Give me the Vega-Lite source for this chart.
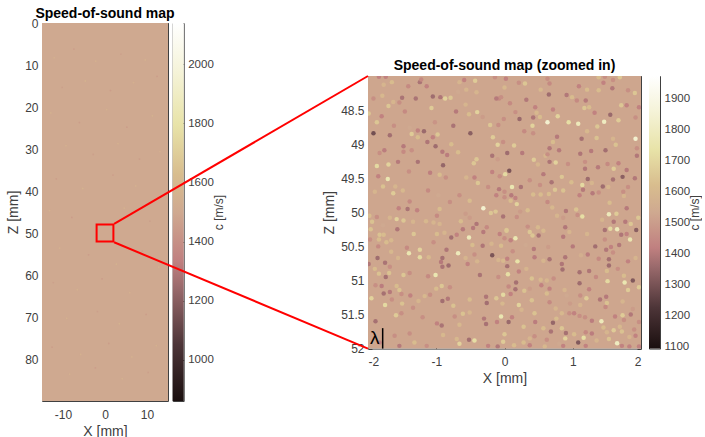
{"$schema":"https://vega.github.io/schema/vega-lite/v6.json","padding":{"left":6,"top":6,"right":0,"bottom":0},"background":"white","bounds":"flush","spacing":326,"config":{"view":{"stroke":"#404040","strokeWidth":1},"font":"Liberation Sans","axis":{"grid":false,"domain":false,"tickColor":"#404040","tickSize":-4,"tickWidth":1,"labelColor":"#404040","labelFontSize":12,"labelFont":"Liberation Sans","titleFont":"Liberation Sans","titleColor":"#404040","titleFontWeight":"normal","titleFontSize":14,"labelPadding":8,"labelExpr":"''+datum.value"},"title":{"font":"Liberation Sans","fontSize":14,"fontWeight":"bold","color":"#000000","offset":-4}},"hconcat":[{"spacing":4.7,"bounds":"flush","hconcat":[{"width":126,"height":378,"title":"Speed-of-sound map","resolve":{"axis":{"x":"independent","y":"independent"}},"layer":[{"data":{"values":[{"x":-15,"x2":15,"z":0,"z2":90,"c":1500}]},"mark":"rect","encoding":{"x":{"field":"x","type":"quantitative","scale":{"domain":[-15,15],"nice":false},"axis":{"values":[-10,0,10],"title":"X [mm]","orient":"bottom","labelPadding":12}},"x2":{"field":"x2"},"y":{"field":"z","type":"quantitative","scale":{"domain":[90,0],"nice":false},"axis":{"values":[0,10,20,30,40,50,60,70,80],"title":"Z [mm]","orient":"left"}},"y2":{"field":"z2"},"color":{"field":"c","type":"quantitative","legend":null,"scale":{"domain":[860,1052,1244,1334,1500,1628,1794,1974,2140],"range":["#1a0f0f","#4d3538","#9a6a6c","#c08080","#cfa990","#d8bd8e","#e8e3a8","#f5f3d8","#ffffff"]}}}},{"data":{"values":[{"x":-12.1,"z":8.3,"c":1580},{"x":-7.4,"z":6.2,"c":1440},{"x":-2.2,"z":9.1,"c":1590},{"x":3.8,"z":7.4,"c":1450},{"x":9.6,"z":8.8,"c":1600},{"x":12.4,"z":12.7,"c":1430},{"x":-10.2,"z":15.3,"c":1450},{"x":-4.7,"z":13.8,"c":1610},{"x":1.3,"z":16.1,"c":1440},{"x":6.8,"z":14.2,"c":1590},{"x":-12.9,"z":21.4,"c":1600},{"x":-6.1,"z":23.7,"c":1440},{"x":0.4,"z":20.6,"c":1600},{"x":5.2,"z":24.8,"c":1430},{"x":11.3,"z":22.1,"c":1610},{"x":-9.3,"z":29.2,"c":1590},{"x":-2.8,"z":31.3,"c":1450},{"x":3.1,"z":28.7,"c":1600},{"x":8.2,"z":32.4,"c":1440},{"x":13.1,"z":30.6,"c":1590},{"x":-11.6,"z":37.1,"c":1440},{"x":-5.3,"z":39.4,"c":1610},{"x":1.9,"z":36.2,"c":1440},{"x":7.3,"z":38.8,"c":1600},{"x":-13.2,"z":44.7,"c":1600},{"x":-7.9,"z":46.3,"c":1430},{"x":4.6,"z":44.1,"c":1590},{"x":10.7,"z":47.2,"c":1450},{"x":-10.8,"z":53.6,"c":1590},{"x":-3.9,"z":55.2,"c":1440},{"x":2.7,"z":57.4,"c":1610},{"x":8.9,"z":54.3,"c":1440},{"x":12.8,"z":58.1,"c":1600},{"x":-12.3,"z":61.8,"c":1450},{"x":-6.6,"z":63.5,"c":1600},{"x":-0.7,"z":60.9,"c":1430},{"x":5.9,"z":64.2,"c":1590},{"x":-9.1,"z":70.3,"c":1600},{"x":-1.8,"z":68.7,"c":1450},{"x":3.4,"z":71.6,"c":1610},{"x":9.8,"z":69.4,"c":1440},{"x":-12.6,"z":77.2,"c":1440},{"x":-5.8,"z":78.9,"c":1600},{"x":0.9,"z":76.3,"c":1440},{"x":6.4,"z":79.5,"c":1590},{"x":12.2,"z":76.8,"c":1600},{"x":-8.4,"z":83.6,"c":1590},{"x":-2.3,"z":82.1,"c":1430},{"x":4.1,"z":84.7,"c":1600},{"x":10.3,"z":83.2,"c":1450}]},"mark":{"type":"circle","size":3,"opacity":0.7},"encoding":{"x":{"field":"x","type":"quantitative","axis":{"values":[-10,0,10],"title":null,"labels":false,"orient":"top"}},"y":{"field":"z","type":"quantitative","axis":{"values":[0,10,20,30,40,50,60,70,80],"title":null,"labels":false,"orient":"right"}},"color":{"field":"c","type":"quantitative","legend":null}}},{"data":{"values":[{"x":-2,"x2":2,"z":48,"z2":52}]},"mark":{"type":"rect","fillOpacity":0,"stroke":"#ff0000","strokeWidth":2},"encoding":{"x":{"field":"x","type":"quantitative","axis":null},"x2":{"field":"x2"},"y":{"field":"z","type":"quantitative","axis":null},"y2":{"field":"z2"}}}]},{"width":11,"height":378,"data":{"values":[{"c":860,"c2":2140}]},"mark":{"type":"rect","color":{"gradient":"linear","x1":0,"y1":1,"x2":0,"y2":0,"stops":[{"offset":0,"color":"#1a0f0f"},{"offset":0.15,"color":"#4d3538"},{"offset":0.3,"color":"#9a6a6c"},{"offset":0.37,"color":"#c08080"},{"offset":0.5,"color":"#cfa990"},{"offset":0.6,"color":"#d8bd8e"},{"offset":0.73,"color":"#e8e3a8"},{"offset":0.87,"color":"#f5f3d8"},{"offset":1,"color":"#ffffff"}]}},"encoding":{"y":{"field":"c","type":"quantitative","scale":{"domain":[860,2140]},"axis":{"orient":"right","values":[1000,1200,1400,1600,1800,2000],"title":"c [m/s]","titleAngle":270,"titleFontSize":12,"labelFontSize":11.5,"tickSize":-3,"labelPadding":7,"titlePadding":12}},"y2":{"field":"c2"}}}]},{"spacing":0,"bounds":"flush","vconcat":[{"width":10,"height":52.7,"view":{"stroke":null},"data":{"values":[{"c":1}]},"mark":{"type":"point","opacity":0},"encoding":{}},{"hconcat":[{"width":273,"height":272.6,"title":{"text":"Speed-of-sound map (zoomed in)","offset":2},"resolve":{"axis":{"x":"independent","y":"independent"}},"layer":[{"data":{"values":[{"x":-2,"x2":2,"z":48,"z2":52,"c":1490}]},"mark":"rect","encoding":{"x":{"field":"x","type":"quantitative","scale":{"domain":[-2,2],"nice":false},"axis":{"values":[-2,-1,0,1,2],"title":"X [mm]","orient":"bottom","labelPadding":12}},"x2":{"field":"x2"},"y":{"field":"z","type":"quantitative","scale":{"domain":[52,48],"nice":false},"axis":{"values":[48.5,49,49.5,50,50.5,51,51.5,52],"title":"Z [mm]","orient":"left"}},"y2":{"field":"z2"},"color":{"field":"c","type":"quantitative","legend":null,"scale":{"domain":[1094,1226,1358,1420,1534,1622,1736,1860,1974],"range":["#1a0f0f","#4d3538","#9a6a6c","#c08080","#cfa990","#d8bd8e","#e8e3a8","#f5f3d8","#ffffff"]}}}},{"data":{"values":[{"x":-1.92,"z":48.84,"c":1100},{"x":-1.87,"z":48.68,"c":1700},{"x":-1.68,"z":48.87,"c":1220},{"x":-1.8,"z":48.59,"c":1350},{"x":-1.62,"z":48.73,"c":1400},{"x":-1.5,"z":48.32,"c":1250},{"x":-1.3,"z":48.33,"c":1250},{"x":-1.24,"z":48.09,"c":1250},{"x":-1.05,"z":48.3,"c":1200},{"x":-0.94,"z":48.31,"c":1270},{"x":-0.87,"z":48.33,"c":1750},{"x":-0.79,"z":48.32,"c":1700},{"x":-1.07,"z":48.47,"c":1720},{"x":-1.18,"z":48.81,"c":1180},{"x":-0.5,"z":48.84,"c":1150},{"x":-0.75,"z":48.73,"c":1250},{"x":-0.71,"z":48.52,"c":1300},{"x":-1.36,"z":48.85,"c":1720},{"x":-0.98,"z":48.86,"c":1700},{"x":-1.13,"z":48.97,"c":1270},{"x":-1.01,"z":49.03,"c":1200},{"x":-1.05,"z":48.9,"c":1350},{"x":-0.78,"z":49,"c":1650},{"x":-0.91,"z":49.11,"c":1300},{"x":-0.84,"z":49.16,"c":1320},{"x":-0.68,"z":49.12,"c":1650},{"x":-1.27,"z":49.26,"c":1250},{"x":-0.9,"z":49.31,"c":1170},{"x":-1.56,"z":49.26,"c":1300},{"x":-1.48,"z":49.03,"c":1300},{"x":-1.48,"z":49.11,"c":1380},{"x":-1.76,"z":49.09,"c":1320},{"x":-1.83,"z":49.13,"c":1400},{"x":-1.87,"z":49.32,"c":1780},{"x":-1.7,"z":49.3,"c":1750},{"x":-1.71,"z":49.51,"c":1850},{"x":-1.85,"z":49.47,"c":1350},{"x":-1.09,"z":49.42,"c":1330},{"x":-0.41,"z":49.22,"c":1700},{"x":-0.45,"z":49.28,"c":1700},{"x":-0.4,"z":48.53,"c":1750},{"x":-0.52,"z":48.56,"c":1650},{"x":-0.57,"z":48.42,"c":1600},{"x":-1.65,"z":48.09,"c":1650},{"x":-1.41,"z":48.15,"c":1380},{"x":-1.22,"z":48.05,"c":1380},{"x":-1.77,"z":48.13,"c":1600},{"x":-1.92,"z":48.33,"c":1400},{"x":-1.79,"z":48.29,"c":1620},{"x":-1.7,"z":48.44,"c":1700},{"x":-1.63,"z":48.38,"c":1600},{"x":-1.46,"z":48.52,"c":1380},{"x":-1.54,"z":48.39,"c":1400},{"x":-0.43,"z":48.07,"c":1720},{"x":-0.59,"z":48.06,"c":1350},{"x":-0.68,"z":48.23,"c":1500},{"x":-0.56,"z":48.2,"c":1600},{"x":-0.21,"z":48.72,"c":1700},{"x":-0.09,"z":48.72,"c":1400},{"x":-0.17,"z":48.9,"c":1720},{"x":-0.1,"z":49.01,"c":1750},{"x":0.04,"z":49.13,"c":1200},{"x":0.07,"z":49.39,"c":1120},{"x":0.01,"z":49.44,"c":1780},{"x":-0.18,"z":49.17,"c":1250},{"x":-0.1,"z":49.22,"c":1450},{"x":-0.08,"z":48.33,"c":1380},{"x":-0.12,"z":48.33,"c":1300},{"x":-0.41,"z":48.24,"c":1600},{"x":-0.14,"z":48.02,"c":1400},{"x":0.02,"z":48.04,"c":1350},{"x":-1.84,"z":48.01,"c":1350},{"x":-1.74,"z":48.01,"c":1350},{"x":-1.99,"z":48.55,"c":1700},{"x":-0.32,"z":48.6,"c":1450},{"x":-0.66,"z":48.09,"c":1600},{"x":-1.14,"z":48.15,"c":1350},{"x":-1.02,"z":48.68,"c":1420},{"x":-1.39,"z":48.76,"c":1500},{"x":-1.27,"z":48.8,"c":1350},{"x":-1.27,"z":48.9,"c":1650},{"x":-1.36,"z":49.09,"c":1400},{"x":-1.78,"z":49.62,"c":1680},{"x":-1.9,"z":49.7,"c":1600},{"x":-1.63,"z":49.72,"c":1720},{"x":-1.6,"z":49.62,"c":1600},{"x":-1.49,"z":49.68,"c":1620},{"x":-1.39,"z":49.84,"c":1380},{"x":-1.12,"z":49.68,"c":1380},{"x":-0.8,"z":49.85,"c":1400},{"x":-0.97,"z":49.75,"c":1500},{"x":-0.66,"z":49.75,"c":1400},{"x":-0.51,"z":49.83,"c":1650},{"x":-0.39,"z":49.57,"c":1700},{"x":-0.44,"z":49.49,"c":1350},{"x":-0.56,"z":49.49,"c":1600},{"x":-0.86,"z":49.49,"c":1400},{"x":-0.95,"z":49.45,"c":1650},{"x":-1.4,"z":49.4,"c":1400},{"x":-0.18,"z":49.41,"c":1350},{"x":-0.07,"z":49.47,"c":1400},{"x":-0.08,"z":49.66,"c":1300},{"x":-0.24,"z":49.63,"c":1400},{"x":0,"z":49.78,"c":1400},{"x":-0.12,"z":49.75,"c":1350},{"x":0.65,"z":48.27,"c":1200},{"x":0.32,"z":48.35,"c":1280},{"x":0.63,"z":48.68,"c":1950},{"x":0.78,"z":48.59,"c":1750},{"x":0.94,"z":48.68,"c":1800},{"x":1.08,"z":48.7,"c":1880},{"x":1.46,"z":48.67,"c":1900},{"x":1.92,"z":48.92,"c":1950},{"x":1.91,"z":48.25,"c":1700},{"x":1.67,"z":48.65,"c":1720},{"x":1.55,"z":48.57,"c":1180},{"x":1.58,"z":48.18,"c":1280},{"x":1.38,"z":48.21,"c":1650},{"x":1.21,"z":48.2,"c":1650},{"x":1.09,"z":48.15,"c":1350},{"x":0.99,"z":48.31,"c":1650},{"x":0.91,"z":48.28,"c":1280},{"x":1.06,"z":48.36,"c":1380},{"x":1.19,"z":48.36,"c":1300},{"x":1.24,"z":48.46,"c":1650},{"x":1.17,"z":48.47,"c":1700},{"x":1.32,"z":48.54,"c":1350},{"x":1.71,"z":48.43,"c":1700},{"x":1.79,"z":48.43,"c":1350},{"x":1.97,"z":48.46,"c":1350},{"x":1.92,"z":48.61,"c":1400},{"x":0.22,"z":48.63,"c":1180},{"x":0.42,"z":48.61,"c":1260},{"x":0.52,"z":48.6,"c":1650},{"x":0.47,"z":48.54,"c":1620},{"x":0.45,"z":48.46,"c":1350},{"x":0.16,"z":48.53,"c":1400},{"x":0.71,"z":48.49,"c":1350},{"x":-0.01,"z":48.63,"c":1400},{"x":0.08,"z":48.4,"c":1380},{"x":-0.05,"z":48.31,"c":1400},{"x":0,"z":48.17,"c":1620},{"x":0.3,"z":48.11,"c":1700},{"x":0.21,"z":48.1,"c":1400},{"x":0.66,"z":48.11,"c":1380},{"x":0.63,"z":48.04,"c":1400},{"x":0.53,"z":48.2,"c":1620},{"x":1.45,"z":48.1,"c":1350},{"x":1.59,"z":48.06,"c":1400},{"x":1.69,"z":48.02,"c":1700},{"x":1.38,"z":48.02,"c":1650},{"x":1.47,"z":48.01,"c":1400},{"x":1.81,"z":48.21,"c":1400},{"x":1.13,"z":48.92,"c":1230},{"x":0.77,"z":48.89,"c":1300},{"x":0.71,"z":48.97,"c":1650},{"x":0.66,"z":49.06,"c":1280},{"x":0.8,"z":49.09,"c":1300},{"x":0.6,"z":49.17,"c":1600},{"x":1.11,"z":49.14,"c":1270},{"x":1.27,"z":49.1,"c":1300},{"x":1.48,"z":49.09,"c":1220},{"x":1.35,"z":48.91,"c":1680},{"x":1.63,"z":49.01,"c":1680},{"x":1.59,"z":48.92,"c":1600},{"x":1.21,"z":48.81,"c":1620},{"x":1.36,"z":48.74,"c":1700},{"x":0.41,"z":48.73,"c":1750},{"x":0.29,"z":48.81,"c":1380},{"x":0.42,"z":48.84,"c":1400},{"x":0.14,"z":49.02,"c":1720},{"x":0.26,"z":49.13,"c":1300},{"x":0.43,"z":49.23,"c":1720},{"x":0.66,"z":49.26,"c":1260},{"x":0.75,"z":49.27,"c":1750},{"x":0.63,"z":49.15,"c":1400},{"x":0.49,"z":49.3,"c":1600},{"x":0.93,"z":49.29,"c":1400},{"x":1.18,"z":49.26,"c":1400},{"x":1.18,"z":49.36,"c":1280},{"x":1.51,"z":49.29,"c":1380},{"x":1.67,"z":49.28,"c":1350},{"x":1.37,"z":49.34,"c":1300},{"x":1.6,"z":49.36,"c":1720},{"x":1.79,"z":49.38,"c":1300},{"x":1.22,"z":49.51,"c":1190},{"x":1.59,"z":49.52,"c":1230},{"x":1.73,"z":49.48,"c":1150},{"x":1.91,"z":49.5,"c":1280},{"x":0.57,"z":49.44,"c":1300},{"x":0.84,"z":49.48,"c":1700},{"x":0.98,"z":49.56,"c":1650},{"x":0.69,"z":49.56,"c":1250},{"x":0.37,"z":49.53,"c":1400},{"x":1.14,"z":49.6,"c":1780},{"x":1.15,"z":49.67,"c":1300},{"x":1.28,"z":49.57,"c":1600},{"x":1.44,"z":49.62,"c":1200},{"x":1.52,"z":49.63,"c":1600},{"x":1.29,"z":49.72,"c":1300},{"x":1.38,"z":49.71,"c":1400},{"x":0.11,"z":49.63,"c":1850},{"x":0.24,"z":49.63,"c":1250},{"x":0.52,"z":49.6,"c":1400},{"x":0.42,"z":49.74,"c":1650},{"x":0,"z":49.7,"c":1400},{"x":0.1,"z":49.75,"c":1300},{"x":0.16,"z":49.79,"c":1350},{"x":0.09,"z":49.83,"c":1650},{"x":0.18,"z":49.88,"c":1750},{"x":0.74,"z":49.67,"c":1700},{"x":0.86,"z":49.68,"c":1680},{"x":1.1,"z":49.75,"c":1350},{"x":1.54,"z":49.86,"c":1650},{"x":1.74,"z":49.7,"c":1400},{"x":1.81,"z":49.63,"c":1400},{"x":1.75,"z":49.76,"c":1600},{"x":0.63,"z":49.85,"c":1380},{"x":0.53,"z":49.74,"c":1650},{"x":0.65,"z":49.73,"c":1650},{"x":1.94,"z":49.17,"c":1280},{"x":1.94,"z":49.06,"c":1400},{"x":-0.02,"z":48.97,"c":1400},{"x":-0.31,"z":49.94,"c":1950},{"x":-0.2,"z":50.01,"c":1700},{"x":-0.13,"z":49.99,"c":1700},{"x":-0.02,"z":50.06,"c":1250},{"x":-1.55,"z":49.94,"c":1350},{"x":-1.42,"z":49.95,"c":1250},{"x":-1.28,"z":49.97,"c":1350},{"x":-0.95,"z":49.95,"c":1650},{"x":-0.99,"z":50.05,"c":1380},{"x":-1.87,"z":50.07,"c":1400},{"x":-1.94,"z":50.14,"c":1680},{"x":-1.98,"z":50.05,"c":1650},{"x":-1.68,"z":50.08,"c":1600},{"x":-1.58,"z":50.1,"c":1750},{"x":-1.48,"z":50.12,"c":1700},{"x":-1.78,"z":50.19,"c":1500},{"x":-1.57,"z":50.25,"c":1270},{"x":-1.34,"z":50.14,"c":1600},{"x":-1.15,"z":50.13,"c":1620},{"x":-1.04,"z":50.15,"c":1600},{"x":-0.95,"z":50.17,"c":1600},{"x":-0.64,"z":50.13,"c":1650},{"x":-0.57,"z":50.02,"c":1450},{"x":-0.41,"z":50.17,"c":1270},{"x":-0.46,"z":50.23,"c":1300},{"x":-0.51,"z":50.08,"c":1450},{"x":-0.31,"z":50.29,"c":1300},{"x":-0.26,"z":50.22,"c":1380},{"x":-1.96,"z":50.25,"c":1680},{"x":-1.83,"z":50.33,"c":1680},{"x":-1.77,"z":50.33,"c":1650},{"x":-1.84,"z":50.4,"c":1650},{"x":-1.97,"z":50.4,"c":1400},{"x":-1.73,"z":50.44,"c":1650},{"x":-1.66,"z":50.41,"c":1620},{"x":-1.33,"z":50.32,"c":1700},{"x":-0.99,"z":50.32,"c":1650},{"x":-0.88,"z":50.3,"c":1600},{"x":-0.78,"z":50.37,"c":1220},{"x":-0.7,"z":50.33,"c":1350},{"x":-0.61,"z":50.25,"c":1300},{"x":-0.52,"z":50.37,"c":1880},{"x":-0.47,"z":50.48,"c":1650},{"x":-0.32,"z":50.49,"c":1270},{"x":-0.05,"z":50.49,"c":1650},{"x":-0.19,"z":50.46,"c":1600},{"x":0.03,"z":50.26,"c":1680},{"x":-0.07,"z":50.32,"c":1350},{"x":-1.85,"z":50.5,"c":1380},{"x":-1.04,"z":50.44,"c":1400},{"x":-1.43,"z":50.52,"c":1380},{"x":-1.66,"z":50.58,"c":1620},{"x":-1.24,"z":50.55,"c":1750},{"x":-1.4,"z":50.6,"c":1850},{"x":-1.24,"z":50.66,"c":1780},{"x":-1.11,"z":50.66,"c":1620},{"x":-0.85,"z":50.55,"c":1270},{"x":-0.91,"z":50.67,"c":1230},{"x":-0.68,"z":50.6,"c":1880},{"x":-0.18,"z":50.63,"c":1120},{"x":-0.44,"z":50.62,"c":1400},{"x":-1.86,"z":50.67,"c":1200},{"x":-1.75,"z":50.74,"c":1250},{"x":-1.99,"z":50.76,"c":1280},{"x":-1.56,"z":50.67,"c":1600},{"x":-1.68,"z":50.8,"c":1400},{"x":-1.9,"z":50.83,"c":1650},{"x":-1.84,"z":50.9,"c":1680},{"x":-1.69,"z":50.89,"c":1680},{"x":-1.74,"z":50.95,"c":1230},{"x":-1.48,"z":50.92,"c":1700},{"x":-1.39,"z":50.89,"c":1400},{"x":-1.12,"z":50.94,"c":1380},{"x":-1.01,"z":50.92,"c":1850},{"x":-0.91,"z":50.8,"c":1250},{"x":-0.82,"z":50.78,"c":1200},{"x":-0.93,"z":50.73,"c":1300},{"x":-0.57,"z":50.67,"c":1600},{"x":-0.4,"z":50.72,"c":1600},{"x":-0.54,"z":50.76,"c":1350},{"x":-0.09,"z":50.7,"c":1600},{"x":-0.02,"z":50.71,"c":1620},{"x":0.04,"z":50.68,"c":1350},{"x":0.05,"z":50.91,"c":1800},{"x":-0.36,"z":50.92,"c":1250},{"x":-0.09,"z":50.95,"c":1400},{"x":-1.89,"z":51.07,"c":1400},{"x":-1.8,"z":51.08,"c":1320},{"x":-1.77,"z":51.19,"c":1230},{"x":-1.68,"z":51.17,"c":1300},{"x":-1.58,"z":51.08,"c":1650},{"x":-1.54,"z":51.14,"c":1680},{"x":-1.95,"z":51.26,"c":1750},{"x":-1.38,"z":51.22,"c":1350},{"x":-1.51,"z":51.2,"c":1400},{"x":-1.26,"z":51.3,"c":1600},{"x":-1.17,"z":51.23,"c":1620},{"x":-1.09,"z":51.21,"c":1400},{"x":-1,"z":51.12,"c":1650},{"x":-0.92,"z":51.08,"c":1700},{"x":-0.91,"z":51.3,"c":1220},{"x":-0.83,"z":51.27,"c":1280},{"x":-0.8,"z":51.1,"c":1400},{"x":-0.51,"z":51.28,"c":1650},{"x":-0.27,"z":51.24,"c":1270},{"x":-0.26,"z":51.33,"c":1220},{"x":-0.12,"z":51.26,"c":1700},{"x":-0.02,"z":51.21,"c":1780},{"x":-1.75,"z":51.36,"c":1780},{"x":-1.65,"z":51.28,"c":1400},{"x":-1.5,"z":51.34,"c":1680},{"x":-1.59,"z":51.51,"c":1720},{"x":-1.51,"z":51.48,"c":1400},{"x":-1.34,"z":51.4,"c":1400},{"x":-1.2,"z":51.54,"c":1400},{"x":-0.75,"z":51.37,"c":1680},{"x":-0.61,"z":51.49,"c":1680},{"x":-0.51,"z":51.47,"c":1600},{"x":-0.73,"z":51.53,"c":1400},{"x":-0.05,"z":51.53,"c":1850},{"x":-0.3,"z":51.56,"c":1280},{"x":-0.27,"z":51.64,"c":1240},{"x":-0.11,"z":51.61,"c":1350},{"x":0.06,"z":51.61,"c":1180},{"x":-1.89,"z":51.6,"c":1230},{"x":-0.99,"z":51.63,"c":1350},{"x":-0.92,"z":51.66,"c":1250},{"x":-0.66,"z":51.65,"c":1620},{"x":-1.39,"z":51.78,"c":1400},{"x":-1.61,"z":51.81,"c":1400},{"x":-1.54,"z":51.96,"c":1300},{"x":-1.32,"z":51.91,"c":1650},{"x":-0.9,"z":51.8,"c":1620},{"x":-0.7,"z":51.86,"c":1620},{"x":-0.52,"z":51.87,"c":1220},{"x":-0.44,"z":51.88,"c":1800},{"x":-0.66,"z":51.93,"c":1750},{"x":-0.24,"z":51.96,"c":1350},{"x":0,"z":51.79,"c":1700},{"x":-0.02,"z":51.9,"c":1720},{"x":-0.1,"z":51.97,"c":1280},{"x":-1.14,"z":51.96,"c":1400},{"x":-1.83,"z":51.91,"c":1350},{"x":0.18,"z":50.07,"c":1400},{"x":0.34,"z":49.97,"c":1650},{"x":0.23,"z":49.99,"c":1450},{"x":0.7,"z":49.93,"c":1620},{"x":0.9,"z":49.98,"c":1280},{"x":1.05,"z":49.96,"c":1680},{"x":1.07,"z":50.04,"c":1400},{"x":1.14,"z":50.06,"c":1800},{"x":0.86,"z":50.08,"c":1450},{"x":0.77,"z":50.05,"c":1600},{"x":1.79,"z":49.94,"c":1300},{"x":1.53,"z":50.03,"c":1880},{"x":1.64,"z":50.02,"c":1720},{"x":1.6,"z":50.14,"c":1280},{"x":1.77,"z":50.14,"c":1300},{"x":1.96,"z":50.08,"c":1700},{"x":1.43,"z":50.11,"c":1600},{"x":1.85,"z":50.17,"c":1700},{"x":1.93,"z":50.26,"c":1150},{"x":1.47,"z":50.26,"c":1240},{"x":1.55,"z":50.24,"c":1780},{"x":1.65,"z":50.25,"c":1880},{"x":1.71,"z":50.33,"c":1270},{"x":1.79,"z":50.32,"c":1350},{"x":0.89,"z":50.22,"c":1280},{"x":0.34,"z":50.21,"c":1400},{"x":0.49,"z":50.22,"c":1620},{"x":0.57,"z":50.27,"c":1620},{"x":0.03,"z":50.27,"c":1700},{"x":0.37,"z":50.29,"c":1700},{"x":0.41,"z":50.34,"c":1700},{"x":0.5,"z":50.34,"c":1250},{"x":0.86,"z":50.36,"c":1300},{"x":0.95,"z":50.29,"c":1600},{"x":1.21,"z":50.32,"c":1600},{"x":0.09,"z":50.41,"c":1350},{"x":0.16,"z":50.38,"c":1850},{"x":0,"z":50.38,"c":1400},{"x":1.84,"z":50.4,"c":1850},{"x":1.47,"z":50.4,"c":1400},{"x":0.31,"z":50.48,"c":1500},{"x":0.43,"z":50.54,"c":1300},{"x":0.64,"z":50.51,"c":1450},{"x":1,"z":50.5,"c":1300},{"x":1.33,"z":50.5,"c":1220},{"x":1.49,"z":50.55,"c":1280},{"x":1.56,"z":50.51,"c":1350},{"x":1.68,"z":50.48,"c":1280},{"x":1.59,"z":50.59,"c":1400},{"x":0.12,"z":50.57,"c":1400},{"x":0.44,"z":50.66,"c":1320},{"x":0.66,"z":50.69,"c":1250},{"x":0.89,"z":50.66,"c":1270},{"x":1.12,"z":50.63,"c":1550},{"x":1.22,"z":50.62,"c":1320},{"x":1.38,"z":50.68,"c":1380},{"x":1.53,"z":50.69,"c":1230},{"x":1.53,"z":50.78,"c":1200},{"x":1.81,"z":50.72,"c":1350},{"x":1.92,"z":50.67,"c":1600},{"x":0.19,"z":50.72,"c":1820},{"x":0.04,"z":50.79,"c":1230},{"x":0.84,"z":50.76,"c":1270},{"x":0.57,"z":50.71,"c":1600},{"x":0.32,"z":50.83,"c":1600},{"x":0.85,"z":50.84,"c":1220},{"x":1.1,"z":50.88,"c":1230},{"x":1.24,"z":50.86,"c":1270},{"x":1.5,"z":50.86,"c":1650},{"x":1.66,"z":50.83,"c":1400},{"x":0.21,"z":50.87,"c":1350},{"x":0.4,"z":50.97,"c":1680},{"x":0.53,"z":50.99,"c":1620},{"x":0.72,"z":50.97,"c":1400},{"x":1.75,"z":50.93,"c":1650},{"x":1.34,"z":50.95,"c":1380},{"x":1.88,"z":51,"c":1130},{"x":1.76,"z":51.03,"c":1850},{"x":1.97,"z":51.1,"c":1720},{"x":1.51,"z":51.01,"c":1780},{"x":1.1,"z":51.04,"c":1200},{"x":0.17,"z":51.03,"c":1230},{"x":0.54,"z":51.07,"c":1350},{"x":0.62,"z":51,"c":1600},{"x":0.06,"z":51.09,"c":1380},{"x":0.16,"z":51.13,"c":1240},{"x":0.66,"z":51.12,"c":1350},{"x":0.37,"z":51.12,"c":1450},{"x":0.29,"z":51.15,"c":1680},{"x":0.09,"z":51.2,"c":1350},{"x":0.62,"z":51.19,"c":1650},{"x":0.88,"z":51.14,"c":1600},{"x":0.91,"z":51.22,"c":1500},{"x":1.24,"z":51.13,"c":1350},{"x":1.81,"z":51.14,"c":1720},{"x":1.11,"z":51.22,"c":1400},{"x":1.2,"z":51.26,"c":1720},{"x":1.49,"z":51.24,"c":1300},{"x":1.4,"z":51.28,"c":1270},{"x":1.5,"z":51.33,"c":1680},{"x":0.4,"z":51.29,"c":1680},{"x":0.66,"z":51.32,"c":1380},{"x":-0.03,"z":51.34,"c":1620},{"x":0.21,"z":51.36,"c":1750},{"x":0.96,"z":51.34,"c":1450},{"x":1.11,"z":51.36,"c":1600},{"x":1.73,"z":51.31,"c":1600},{"x":1.48,"z":51.39,"c":1380},{"x":1.88,"z":51.42,"c":1450},{"x":0.25,"z":51.43,"c":1600},{"x":0.75,"z":51.41,"c":1600},{"x":0.44,"z":51.48,"c":1680},{"x":0.84,"z":51.48,"c":1620},{"x":0.95,"z":51.48,"c":1400},{"x":1.02,"z":51.48,"c":1350},{"x":1.1,"z":51.52,"c":1400},{"x":1.18,"z":51.54,"c":1400},{"x":1.28,"z":51.59,"c":1320},{"x":0.11,"z":51.54,"c":1350},{"x":1.62,"z":51.53,"c":1350},{"x":1.73,"z":51.51,"c":1720},{"x":1.85,"z":51.5,"c":1280},{"x":1.75,"z":51.58,"c":1400},{"x":1.97,"z":51.61,"c":1400},{"x":0.45,"z":51.61,"c":1320},{"x":0.71,"z":51.62,"c":1170},{"x":0.76,"z":51.56,"c":1650},{"x":1.42,"z":51.6,"c":1880},{"x":1.69,"z":51.68,"c":1620},{"x":0.28,"z":51.68,"c":1680},{"x":0.57,"z":51.7,"c":1650},{"x":0.84,"z":51.7,"c":1700},{"x":1.45,"z":51.69,"c":1650},{"x":1.6,"z":51.73,"c":1720},{"x":1.72,"z":51.75,"c":1680},{"x":1.9,"z":51.72,"c":1400},{"x":0.68,"z":51.75,"c":1250},{"x":1.19,"z":51.76,"c":1380},{"x":1.28,"z":51.78,"c":1320},{"x":0.9,"z":51.77,"c":1230},{"x":1.5,"z":51.76,"c":1600},{"x":0.44,"z":51.82,"c":1400},{"x":1.02,"z":51.79,"c":1650},{"x":0.89,"z":51.85,"c":1750},{"x":1.16,"z":51.84,"c":1800},{"x":1.53,"z":51.86,"c":1680},{"x":1.92,"z":51.81,"c":1350},{"x":1.83,"z":51.83,"c":1600},{"x":0.28,"z":51.91,"c":1650},{"x":0.37,"z":51.85,"c":1600},{"x":0.62,"z":51.87,"c":1400},{"x":0.8,"z":51.93,"c":1500},{"x":1.08,"z":51.91,"c":1130},{"x":1.35,"z":51.88,"c":1600},{"x":1.65,"z":51.92,"c":1900},{"x":0.14,"z":51.95,"c":1650},{"x":0.37,"z":51.95,"c":1350},{"x":0.59,"z":51.97,"c":1620},{"x":0.86,"z":51.96,"c":1350},{"x":1.19,"z":51.96,"c":1350},{"x":1.72,"z":51.96,"c":1350},{"x":1.83,"z":51.97,"c":1350},{"x":1.97,"z":51.97,"c":1350}]},"mark":{"type":"circle","size":20,"opacity":1,"clip":true},"encoding":{"x":{"field":"x","type":"quantitative","axis":{"values":[-2,-1,0,1,2],"title":null,"labels":false,"orient":"top"}},"y":{"field":"z","type":"quantitative","axis":{"values":[48.5,49,49.5,50,50.5,51,51.5,52],"title":null,"labels":false,"orient":"right"}},"color":{"field":"c","type":"quantitative","legend":null}}},{"data":{"values":[{"x":-1.785,"x2":-1.785,"z":51.7,"z2":52}]},"mark":{"type":"rule","color":"#000000","strokeWidth":1.5},"encoding":{"x":{"field":"x","type":"quantitative","axis":null},"x2":{"field":"x2"},"y":{"field":"z","type":"quantitative","axis":null},"y2":{"field":"z2"}}},{"data":{"values":[{"x":-1.9,"z":51.84,"t":"λ"}]},"mark":{"type":"text","fontSize":19,"color":"#000000","font":"Liberation Sans"},"encoding":{"x":{"field":"x","type":"quantitative","axis":null},"y":{"field":"z","type":"quantitative","axis":null},"text":{"field":"t"}}},{"data":{"values":[{"x":-5.72,"z":50.17,"x2":-2,"z2":48},{"x":-5.72,"z":50.44,"x2":-2,"z2":52}]},"mark":{"type":"rule","color":"#ff0000","strokeWidth":2,"clip":false},"encoding":{"x":{"field":"x","type":"quantitative","axis":null},"x2":{"field":"x2"},"y":{"field":"z","type":"quantitative","axis":null},"y2":{"field":"z2"}}}]},{"width":11,"height":272.6,"data":{"values":[{"c":1094,"c2":1974}]},"mark":{"type":"rect","color":{"gradient":"linear","x1":0,"y1":1,"x2":0,"y2":0,"stops":[{"offset":0,"color":"#1a0f0f"},{"offset":0.15,"color":"#4d3538"},{"offset":0.3,"color":"#9a6a6c"},{"offset":0.37,"color":"#c08080"},{"offset":0.5,"color":"#cfa990"},{"offset":0.6,"color":"#d8bd8e"},{"offset":0.73,"color":"#e8e3a8"},{"offset":0.87,"color":"#f5f3d8"},{"offset":1,"color":"#ffffff"}]}},"encoding":{"y":{"field":"c","type":"quantitative","scale":{"domain":[1094,1974]},"axis":{"orient":"right","values":[1100,1200,1300,1400,1500,1600,1700,1800,1900],"title":"c [m/s]","titleAngle":270,"titleFontSize":12,"labelFontSize":11.5,"tickSize":-3,"labelPadding":7,"titlePadding":12}},"y2":{"field":"c2"}}}],"spacing":8,"bounds":"flush"}]}]}
